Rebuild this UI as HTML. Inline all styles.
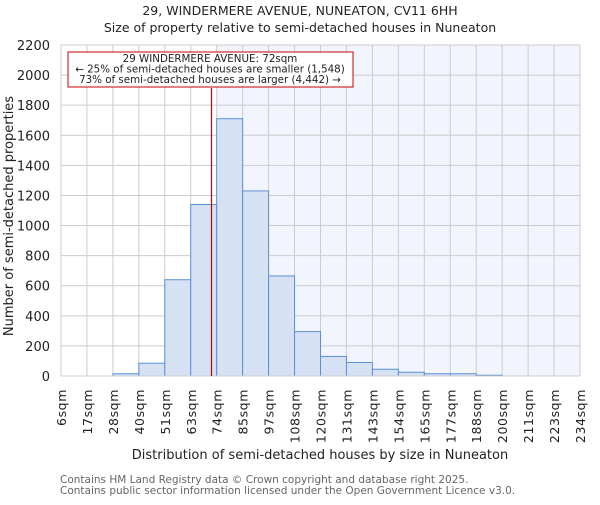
<!DOCTYPE html>
<html><head><meta charset="utf-8"><style>
body{margin:0;background:#fff}
svg{font-family:"DejaVu Sans","Liberation Sans",sans-serif}
</style></head><body>
<svg id="c" width="600" height="500" xmlns="http://www.w3.org/2000/svg">
<text x="300" y="15" font-size="12.5" text-anchor="middle" fill="#222">29, WINDERMERE AVENUE, NUNEATON, CV11 6HH</text>
<text x="300" y="32" font-size="12.5" text-anchor="middle" fill="#222">Size of property relative to semi-detached houses in Nuneaton</text>
<g id="plot"></g>
<text x="320" y="459" font-size="13" text-anchor="middle" fill="#222">Distribution of semi-detached houses by size in Nuneaton</text>
<text transform="translate(13,216) rotate(-90)" font-size="13" text-anchor="middle" fill="#222">Number of semi-detached properties</text>
<text x="60" y="483" font-size="10.5" fill="#666">Contains HM Land Registry data © Crown copyright and database right 2025.</text>
<text x="60" y="494" font-size="10.5" fill="#666">Contains public sector information licensed under the Open Government Licence v3.0.</text>
</svg>
<script>
const categories=["6sqm","17sqm","28sqm","40sqm","51sqm","63sqm","74sqm","85sqm","97sqm","108sqm","120sqm","131sqm","143sqm","154sqm","165sqm","177sqm","188sqm","200sqm","211sqm","223sqm","234sqm"];
const counts=[0,0,15,85,640,1140,1710,1230,665,295,130,90,45,25,15,15,5,0,0,0];
const yTicks=[0,200,400,600,800,1000,1200,1400,1600,1800,2000,2200];
const markerBin=5.8;
const shadeFromBin=6;
const X0=61,X1=580,Y0=376,Y1=45,YMAX=2200,NB=20;
const xs=i=>X0+(X1-X0)*i/NB;
const ys=v=>Y0-(Y0-Y1)*v/YMAX;
const NS="http://www.w3.org/2000/svg";
const g=document.getElementById('plot');
function mk(t,a){const e=document.createElementNS(NS,t);for(const k in a)e.setAttribute(k,a[k]);g.appendChild(e);return e;}
let e=mk('rect',{x:xs(shadeFromBin),y:Y1,width:X1-xs(shadeFromBin),height:Y0-Y1,fill:'#f2f5fd'});


yTicks.forEach(v=>{
 let l=mk('line',{x1:X0,x2:X1,y1:ys(v),y2:ys(v),stroke:'#ccc','stroke-width':1});
 
 
 let t=mk('text',{x:X0-11,y:ys(v)+5,'font-size':13,'text-anchor':'end',fill:'#222'});t.textContent=v;
 
 
});
categories.forEach((c,i)=>{
 let l=mk('line',{x1:xs(i),x2:xs(i),y1:Y1,y2:Y0,stroke:'#ccc','stroke-width':1});
 
 
 let t=mk('text',{transform:`translate(${xs(i)+5},389) rotate(-90)`,'font-size':12.5,'letter-spacing':0.6,'text-anchor':'end',fill:'#222'});t.textContent=c;
 
 
});
counts.forEach((v,i)=>{
 let r=mk('rect',{x:xs(i),y:ys(v),width:xs(i+1)-xs(i),height:Y0-ys(v),fill:'#d6e2f4',stroke:'#5b8fd6','stroke-width':1});
 
 
});
let ax=mk('line',{x1:X0,x2:X1,y1:Y0,y2:Y0,stroke:'#ccc'});


let m=mk('line',{x1:xs(markerBin),x2:xs(markerBin),y1:Y1+43,y2:Y0,stroke:'#c00','stroke-width':1.2});


let b=mk('rect',{x:68,y:52,width:285,height:35,fill:'#fff',stroke:'#c00','stroke-width':1});


["29 WINDERMERE AVENUE: 72sqm","← 25% of semi-detached houses are smaller (1,548)","73% of semi-detached houses are larger (4,442) →"].forEach((s,i)=>{
 let t=mk('text',{x:210,y:62+i*10.5,'font-size':10.3,'text-anchor':'middle',fill:'#222'});t.textContent=s;
 
 
});
</script>
</body></html>
